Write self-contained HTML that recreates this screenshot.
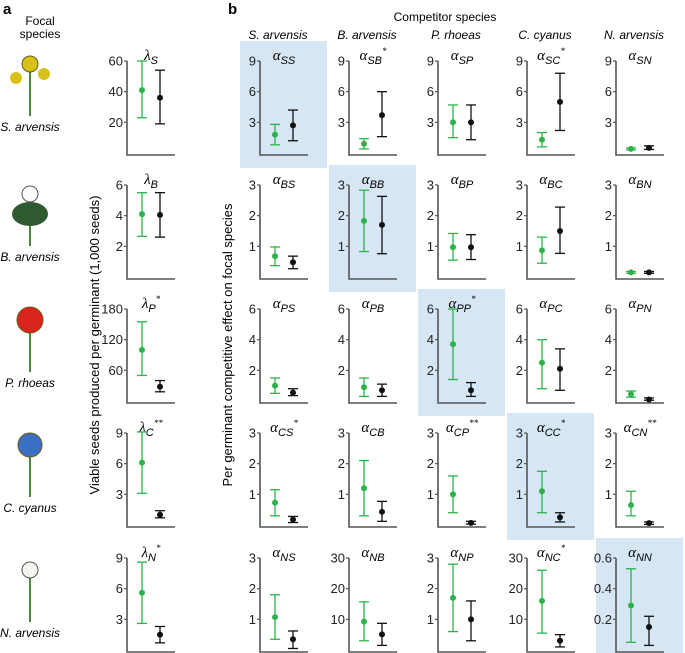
<!DOCTYPE html>
<html><head><meta charset="utf-8"><style>
body{margin:0;background:#fff;}
svg{display:block;font-family:"Liberation Sans",sans-serif;}
</style></head><body>
<svg id="fig" width="685" height="653" viewBox="0 0 685 653" xmlns="http://www.w3.org/2000/svg">
<g id="static">
<text x="3" y="14" font-size="15" font-weight="bold">a</text>
<text x="228" y="14" font-size="15" font-weight="bold">b</text>
<text x="40" y="25" font-size="12" text-anchor="middle">Focal</text>
<text x="40" y="38" font-size="12" text-anchor="middle">species</text>
<text x="445" y="21" font-size="12" text-anchor="middle">Competitor species</text>
<text transform="translate(99,345) rotate(-90)" font-size="13" text-anchor="middle">Viable seeds produced per germinant (1,000 seeds)</text>
<text transform="translate(232,345) rotate(-90)" font-size="13" text-anchor="middle">Per germinant competitive effect on focal species</text>
</g>
<g id="plots"></g>
</svg>
<script>
const NS="http://www.w3.org/2000/svg";
const species=["S. arvensis","B. arvensis","P. rhoeas","C. cyanus","N. arvensis"];
const codes=["S","B","P","C","N"];
// per-panel y-axis maxima [row][col], col0 = lambda
const axisMax=[[60,9,9,9,9,9],[6,3,3,3,3,3],[180,6,6,6,6,6],[9,3,3,3,3,3],[9,3,30,3,30,0.6]];
const tickLabels=[
 [["20","40","60"],["3","6","9"],["3","6","9"],["3","6","9"],["3","6","9"],["3","6","9"]],
 [["2","4","6"],["1","2","3"],["1","2","3"],["1","2","3"],["1","2","3"],["1","2","3"]],
 [["60","120","180"],["2","4","6"],["2","4","6"],["2","4","6"],["2","4","6"],["2","4","6"]],
 [["3","6","9"],["1","2","3"],["1","2","3"],["1","2","3"],["1","2","3"],["1","2","3"]],
 [["3","6","9"],["1","2","3"],["10","20","30"],["1","2","3"],["10","20","30"],["0.2","0.4","0.6"]]];
const stars=[["","","*","","*",""],["","","","","",""],["*","","","*","",""],["**","*","","**","*","**"],["*","","","","*",""]];
// green series: mean, low, high
const greenMean=[[41,1.8,0.9,3.0,1.3,0.4],[4.1,0.68,1.83,0.97,0.87,0.15],[100,1.0,0.9,3.7,2.5,0.45],[6.1,0.73,1.2,1.0,1.1,0.65],[5.6,1.07,9.3,1.7,16,0.29]];
const greenLow=[[23,0.8,0.4,1.5,0.6,0.3],[2.65,0.37,0.83,0.55,0.45,0.12],[50,0.5,0.3,1.4,0.8,0.25],[3.1,0.3,0.3,0.4,0.4,0.3],[2.6,0.35,3,0.6,5.5,0.05]];
const greenHigh=[[60,2.8,1.4,4.7,2.0,0.5],[5.5,0.98,2.83,1.42,1.3,0.18],[155,1.5,1.5,6.0,4.0,0.65],[9.1,1.15,2.1,1.6,1.75,1.1],[8.6,1.8,15.7,2.8,26,0.53]];
const blackMean=[[36,2.7,3.7,3.0,5.0,0.5],[4.05,0.48,1.7,0.97,1.5,0.15],[28,0.55,0.7,0.7,2.1,0.1],[1.0,0.18,0.43,0.07,0.25,0.06],[1.5,0.35,5.1,1.0,3,0.15]];
const blackLow=[[19,1.2,1.6,1.3,2.2,0.35],[2.6,0.27,0.76,0.57,0.77,0.12],[18,0.35,0.3,0.3,0.7,0.05],[0.7,0.08,0.12,0.03,0.1,0.02],[0.7,0.05,1.5,0.3,1,0.03]];
const blackHigh=[[54,4.2,6.0,4.7,7.8,0.7],[5.5,0.68,2.63,1.38,2.28,0.18],[40,0.8,1.1,1.2,3.4,0.2],[1.4,0.28,0.77,0.12,0.4,0.1],[2.3,0.62,8.7,1.6,5,0.22]];
const flowerColor=["#d8c21a","#ffffff","#d8241c","#3a6fc4","#f4f4f0"];

const rowTop=[61,185,309,433,558];
const labelY=[131,261,387,512,637];
const colX=[127,260,349,438,527,616];
const H=92;
const G=document.getElementById('plots');
function mk(t,a,p){const e=document.createElementNS(NS,t);for(const k in a)e.setAttribute(k,a[k]);(p||G).appendChild(e);return e;}
function yScale(r,c,v){return rowTop[r]+H-v/axisMax[r][c]*H;}

for(let r=0;r<5;r++){
 const ill=mk('g',{});
 
 
 const cy=labelY[r]-75;
 mk('line',{x1:30,y1:cy+10,x2:30,y2:cy+60,stroke:'#4a8a3a','stroke-width':2},ill);
 mk('circle',{cx:30,cy:cy+8,r:r==2?13:(r==3?12:8),fill:flowerColor[r],stroke:r==1||r==4?'#555':'#6a5a10','stroke-width':1},ill);
 if(r==0){mk('circle',{cx:16,cy:cy+22,r:6,fill:flowerColor[0]},ill);mk('circle',{cx:44,cy:cy+18,r:6,fill:flowerColor[0]},ill);}
 if(r==1){mk('ellipse',{cx:30,cy:cy+28,rx:18,ry:12,fill:'#2f5a30'},ill);}
 const lbl=mk('text',{x:30,y:labelY[r],'font-size':12,'font-style':'italic','text-anchor':'middle'},ill);
 lbl.textContent=species[r];
 for(let c=0;c<6;c++){
  const g=mk('g',{});
  
  
  const x0=colX[c],top=rowTop[r],base=top+H+2;
  if(c>0 && c-1==r){
   mk('rect',{x:x0-20,y:top-20,width:87,height:H+35+(r==4?10:0),fill:'#d6e6f5'},g);
  }
  mk('path',{d:`M${x0},${top} V${base} H${x0+48}`,stroke:'#555','stroke-width':1.6,fill:'none'},g);
  for(let i=0;i<3;i++){
   const v=axisMax[r][c]*(i+1)/3,y=yScale(r,c,v);
   mk('line',{x1:x0-3,x2:x0,y1:y,y2:y,stroke:'#555','stroke-width':1.2},g);
   const t=mk('text',{x:x0-4,y:y+4.5,'font-size':13,'text-anchor':'end',fill:'#222'},g);
   t.textContent=tickLabels[r][c][i];
  }
  const tt=mk('text',{x:x0+24,y:top-1,'font-size':15,'text-anchor':'middle','font-family':'"Liberation Serif",serif','font-style':'italic'},g);
  const sym=c==0?'λ':'α';
  const sub=c==0?codes[r]:codes[r]+codes[c-1];
  tt.innerHTML=sym+'<tspan dy="4" font-size="11" font-family="Liberation Sans" font-style="italic">'+sub+'</tspan>'+(stars[r][c]?'<tspan dy="-10" font-size="9">'+stars[r][c]+'</tspan>':'');
  const series=[[greenMean,greenLow,greenHigh,'#2db34a',15],[blackMean,blackLow,blackHigh,'#111',33]];
  series.forEach((s,k)=>{
   const cx=x0+s[4];
   const ym=yScale(r,c,s[0][r][c]),yl=yScale(r,c,s[1][r][c]),yh=yScale(r,c,s[2][r][c]);
   const e=mk('g',{},g);
   
   
   mk('line',{x1:cx,x2:cx,y1:yl,y2:yh,stroke:s[3],'stroke-width':1.3},e);
   mk('line',{x1:cx-5,x2:cx+5,y1:yl,y2:yl,stroke:s[3],'stroke-width':1.3},e);
   mk('line',{x1:cx-5,x2:cx+5,y1:yh,y2:yh,stroke:s[3],'stroke-width':1.3},e);
   mk('circle',{cx:cx,cy:ym,r:3,fill:s[3]},e);
  });
 }
}
for(let c=0;c<5;c++){
 const t=mk('text',{x:colX[c+1]+18,y:39,'font-size':12,'font-style':'italic','text-anchor':'middle'});
 
 
 t.textContent=species[c];
}
</script>
</body></html>
